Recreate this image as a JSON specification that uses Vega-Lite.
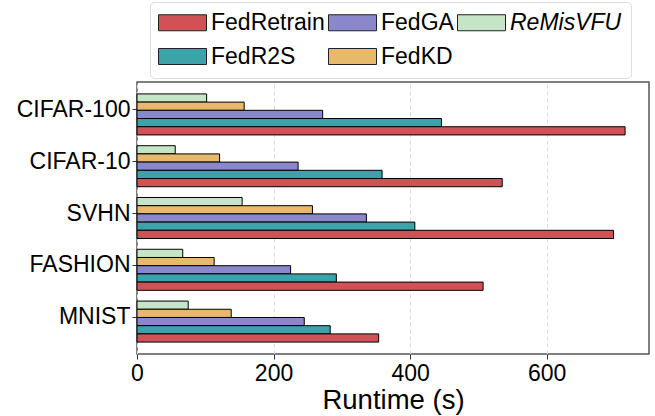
{
  "$schema": "https://vega.github.io/schema/vega-lite/v6.json",
  "width": 512,
  "height": 272,
  "autosize": {"type": "none"},
  "padding": {"left": 137, "top": 82, "right": 6, "bottom": 62},
  "background": "white",
  "config": {
    "font": "Liberation Sans",
    "view": {"stroke": "#555", "strokeWidth": 1.5}
  },
  "data": {
    "values": [
      {"dataset": "CIFAR-100", "method": "ReMisVFU", "runtime": 102},
      {"dataset": "CIFAR-100", "method": "FedKD", "runtime": 157},
      {"dataset": "CIFAR-100", "method": "FedGA", "runtime": 272},
      {"dataset": "CIFAR-100", "method": "FedR2S", "runtime": 446},
      {"dataset": "CIFAR-100", "method": "FedRetrain", "runtime": 715},
      {"dataset": "CIFAR-10", "method": "ReMisVFU", "runtime": 56},
      {"dataset": "CIFAR-10", "method": "FedKD", "runtime": 121},
      {"dataset": "CIFAR-10", "method": "FedGA", "runtime": 236},
      {"dataset": "CIFAR-10", "method": "FedR2S", "runtime": 359},
      {"dataset": "CIFAR-10", "method": "FedRetrain", "runtime": 535},
      {"dataset": "SVHN", "method": "ReMisVFU", "runtime": 154},
      {"dataset": "SVHN", "method": "FedKD", "runtime": 257},
      {"dataset": "SVHN", "method": "FedGA", "runtime": 336},
      {"dataset": "SVHN", "method": "FedR2S", "runtime": 407},
      {"dataset": "SVHN", "method": "FedRetrain", "runtime": 698},
      {"dataset": "FASHION", "method": "ReMisVFU", "runtime": 67},
      {"dataset": "FASHION", "method": "FedKD", "runtime": 113},
      {"dataset": "FASHION", "method": "FedGA", "runtime": 225},
      {"dataset": "FASHION", "method": "FedR2S", "runtime": 292},
      {"dataset": "FASHION", "method": "FedRetrain", "runtime": 507},
      {"dataset": "MNIST", "method": "ReMisVFU", "runtime": 75},
      {"dataset": "MNIST", "method": "FedKD", "runtime": 138},
      {"dataset": "MNIST", "method": "FedGA", "runtime": 245},
      {"dataset": "MNIST", "method": "FedR2S", "runtime": 283},
      {"dataset": "MNIST", "method": "FedRetrain", "runtime": 354}
    ]
  },
  "mark": {"type": "bar", "stroke": "black", "strokeWidth": 1, "opacity": 1},
  "encoding": {
    "y": {
      "field": "dataset",
      "type": "nominal",
      "sort": ["CIFAR-100", "CIFAR-10", "SVHN", "FASHION", "MNIST"],
      "scale": {"paddingInner": 0.208, "paddingOuter": 0.23},
      "axis": {
        "title": null,
        "labelFontSize": 23,
        "labelColor": "black",
        "labelPadding": 2,
        "tickSize": 5,
        "tickColor": "#333",
        "tickOffset": -5,
        "domain": false,
        "grid": false
      }
    },
    "yOffset": {
      "field": "method",
      "type": "nominal",
      "scale": {"domain": ["ReMisVFU", "FedKD", "FedGA", "FedR2S", "FedRetrain"], "paddingInner": 0, "paddingOuter": 0}
    },
    "x": {
      "field": "runtime",
      "type": "quantitative",
      "scale": {"domain": [0, 750], "nice": false},
      "axis": {
        "title": "Runtime (s)",
        "values": [0, 200, 400, 600],
        "titleFontSize": 27.5,
        "titleFontWeight": "normal",
        "titleColor": "black",
        "titlePadding": 1,
        "labelFontSize": 23,
        "labelColor": "black",
        "labelPadding": 3,
        "labelFlush": false,
        "tickSize": 5,
        "tickColor": "#333",
        "domain": false,
        "grid": true,
        "gridColor": "#ddd",
        "gridDash": [4, 3],
        "gridWidth": 1
      }
    },
    "color": {
      "field": "method",
      "type": "nominal",
      "scale": {
        "domain": ["FedRetrain", "FedGA", "ReMisVFU", "FedR2S", "FedKD"],
        "range": ["#d05257", "#8a87cb", "#c6e5c6", "#3ba3a9", "#e8b96c"]
      },
      "legend": {
        "title": null,
        "orient": "none",
        "legendX": 13,
        "legendY": -80,
        "direction": "horizontal",
        "columns": 3,
        "gridAlign": "each",
        "columnPadding": 1,
        "rowPadding": 10,
        "padding": 9,
        "fillColor": "white",
        "strokeColor": "#ddd",
        "cornerRadius": 4,
        "symbolType": "M-1.5,-1L4.5,-1L4.5,1L-1.5,1Z",
        "symbolSize": 256,
        "symbolStrokeColor": "#222",
        "symbolStrokeWidth": 1,
        "symbolOpacity": 1,
        "labelOffset": 29,
        "labelFontSize": 23,
        "labelColor": "black",
        "labelLimit": 300,
        "encode": {
          "labels": {
            "update": {
              "fontStyle": {"signal": "datum.label === 'ReMisVFU' ? 'italic' : 'normal'"}
            }
          }
        }
      }
    }
  }
}
